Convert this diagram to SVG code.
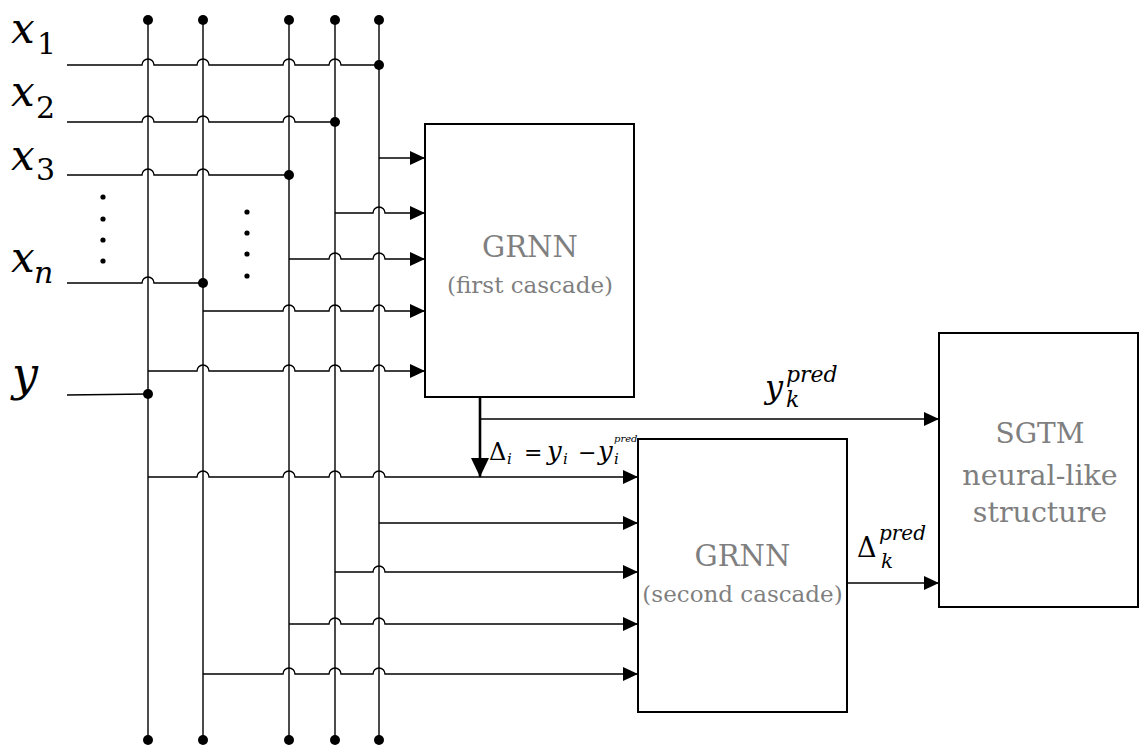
<svg xmlns="http://www.w3.org/2000/svg" width="1140" height="745" viewBox="0 0 1140 745">
<style>
.w{fill:none;stroke:#000;stroke-width:1.4}
.box{fill:#fff;stroke:#000;stroke-width:2}
.lbl{font-family:'DejaVu Serif',serif;fill:#7f7f7f;text-anchor:middle}
.m{font-family:'DejaVu Serif',serif;fill:#000;font-style:italic}
.u{font-family:'DejaVu Serif',serif;fill:#000}
.dot{fill:#000}
</style>
<defs>
<marker id="arr" markerUnits="userSpaceOnUse" markerWidth="15" markerHeight="14" viewBox="0 0 15 14" refX="15" refY="7" orient="auto"><path d="M0 0 L15 7 L0 14 z" fill="#000"/></marker>
<marker id="arrB" markerUnits="userSpaceOnUse" markerWidth="19" markerHeight="18" viewBox="0 0 19 18" refX="19" refY="9" orient="auto"><path d="M0 0 L19 9 L0 18 z" fill="#000"/></marker>
</defs>

<g id="grnn1" font-family="DejaVu Serif, serif">
<rect class="box" x="425" y="124" width="209" height="273"/>
<text class="lbl" x="530" y="257" font-size="29">GRNN</text>
<text class="lbl" x="530" y="293" font-size="23">(first cascade)</text>
</g>
<g id="grnn2" font-family="DejaVu Serif, serif">
<rect class="box" x="638" y="439" width="209" height="273"/>
<text class="lbl" x="742.5" y="566" font-size="29">GRNN</text>
<text class="lbl" x="742.5" y="602" font-size="23">(second cascade)</text>
</g>
<g id="sgtm" font-family="DejaVu Serif, serif">
<rect class="box" x="939" y="333" width="199" height="274"/>
<text class="lbl" x="1040" y="443" font-size="28">SGTM</text>
<text class="lbl" x="1040" y="485" font-size="28.5">neural-like</text>
<text class="lbl" x="1040" y="522" font-size="28.5">structure</text>
</g>

<g id="inputs" font-family="DejaVu Serif, serif">
<text class="m" x="11" y="43" font-size="42">x</text><text class="u" x="37" y="54" font-size="30">1</text>
<text class="m" x="11" y="106" font-size="42">x</text><text class="u" x="36" y="118" font-size="30">2</text>
<text class="m" x="11" y="170" font-size="42">x</text><text class="u" x="36" y="180" font-size="30">3</text>
<text class="m" x="11" y="272" font-size="42">x</text><text class="m" x="34" y="283" font-size="30">n</text>
<text class="m" x="12" y="390" font-size="46">y</text>
<circle class="dot" cx="103" cy="197" r="2.6"/><circle class="dot" cx="103" cy="219" r="2.6"/><circle class="dot" cx="103" cy="240" r="2.6"/><circle class="dot" cx="103" cy="261" r="2.6"/>
<circle class="dot" cx="247" cy="212" r="2.6"/><circle class="dot" cx="247" cy="233" r="2.6"/><circle class="dot" cx="247" cy="254" r="2.6"/><circle class="dot" cx="247" cy="276" r="2.6"/>
</g>

<g id="connectors">
<path class="w" d="M148 20 V740 M203 20 V740 M289 20 V740 M335 20 V740 M379 20 V740"/>
<path class="w" d="M67 65 H142 A6 6 0 0 1 154 65 H197 A6 6 0 0 1 209 65 H283 A6 6 0 0 1 295 65 H329 A6 6 0 0 1 341 65 H379"/>
<path class="w" d="M67 122 H142 A6 6 0 0 1 154 122 H197 A6 6 0 0 1 209 122 H283 A6 6 0 0 1 295 122 H335"/>
<path class="w" d="M67 175 H142 A6 6 0 0 1 154 175 H197 A6 6 0 0 1 209 175 H289"/>
<path class="w" d="M67 283 H142 A6 6 0 0 1 154 283 H203"/>
<path class="w" d="M67 395 L148 394"/>
<path class="w" marker-end="url(#arr)" d="M379 158 H425"/>
<path class="w" marker-end="url(#arr)" d="M335 213 H373 A6 6 0 0 1 385 213 H425"/>
<path class="w" marker-end="url(#arr)" d="M289 259 H329 A6 6 0 0 1 341 259 H373 A6 6 0 0 1 385 259 H425"/>
<path class="w" marker-end="url(#arr)" d="M203 311 H283 A6 6 0 0 1 295 311 H329 A6 6 0 0 1 341 311 H373 A6 6 0 0 1 385 311 H425"/>
<path class="w" marker-end="url(#arr)" d="M148 371 H197 A6 6 0 0 1 209 371 H283 A6 6 0 0 1 295 371 H329 A6 6 0 0 1 341 371 H373 A6 6 0 0 1 385 371 H425"/>
<path class="w" marker-end="url(#arr)" d="M148 477 H197 A6 6 0 0 1 209 477 H283 A6 6 0 0 1 295 477 H329 A6 6 0 0 1 341 477 H373 A6 6 0 0 1 385 477 H638"/>
<path class="w" marker-end="url(#arr)" d="M379 523 H638"/>
<path class="w" marker-end="url(#arr)" d="M335 572 H373 A6 6 0 0 1 385 572 H638"/>
<path class="w" marker-end="url(#arr)" d="M289 624 H329 A6 6 0 0 1 341 624 H373 A6 6 0 0 1 385 624 H638"/>
<path class="w" marker-end="url(#arr)" d="M203 674 H283 A6 6 0 0 1 295 674 H329 A6 6 0 0 1 341 674 H373 A6 6 0 0 1 385 674 H638"/>
<path fill="none" stroke="#000" stroke-width="2.6" marker-end="url(#arrB)" d="M480 397 V477"/>
<path class="w" marker-end="url(#arr)" d="M480 419 H939"/>
<path class="w" marker-end="url(#arr)" d="M847 583 H939"/>
<circle class="dot" cx="148" cy="20" r="5"/><circle class="dot" cx="203" cy="20" r="5"/><circle class="dot" cx="289" cy="20" r="5"/><circle class="dot" cx="335" cy="20" r="5"/><circle class="dot" cx="379" cy="20" r="5"/>
<circle class="dot" cx="148" cy="740" r="5"/><circle class="dot" cx="203" cy="740" r="5"/><circle class="dot" cx="289" cy="740" r="5"/><circle class="dot" cx="335" cy="740" r="5"/><circle class="dot" cx="379" cy="740" r="5"/>
<circle class="dot" cx="379" cy="65" r="5"/><circle class="dot" cx="335" cy="122" r="5"/><circle class="dot" cx="289" cy="175" r="5"/><circle class="dot" cx="203" cy="283" r="5"/><circle class="dot" cx="148" cy="394" r="5"/>
</g>

<g id="labels" font-family="DejaVu Serif, serif">
<text class="m" x="765" y="398" font-size="32">y</text><text class="m" x="786" y="382" font-size="22">pred</text><text class="m" x="786" y="407" font-size="22">k</text>
<text class="u" x="857" y="557" font-size="27">Δ</text><text class="m" x="879" y="540" font-size="20">pred</text><text class="m" x="881" y="568" font-size="20">k</text>
<text class="u" x="489" y="460" font-size="24">Δ</text><text class="m" x="507" y="464" font-size="15">i</text>
<text class="u" x="524" y="460" font-size="22">=</text>
<text class="m" x="547" y="460" font-size="26">y</text><text class="m" x="563" y="464" font-size="15">i</text>
<text class="u" x="578" y="460" font-size="22">−</text>
<text class="m" x="598" y="460" font-size="26">y</text><text class="m" x="614" y="464" font-size="15">i</text><text class="m" x="614" y="442" font-size="10">pred</text>
</g>
</svg>
